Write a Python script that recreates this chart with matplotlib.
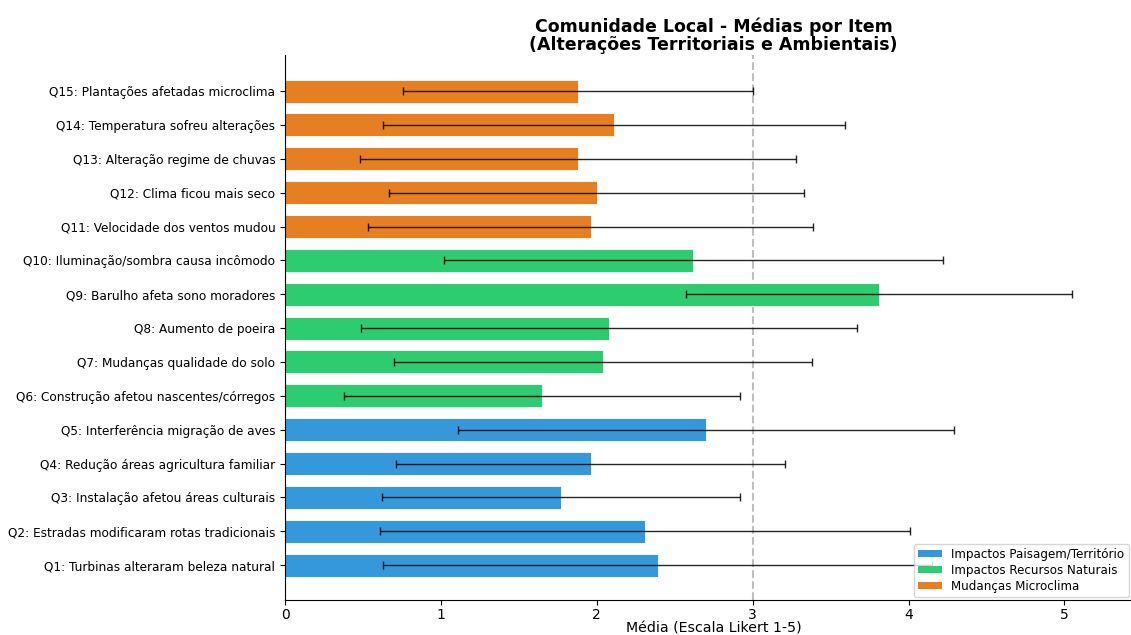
import matplotlib
matplotlib.use("Agg")
import matplotlib.pyplot as plt
from matplotlib.patches import Patch

# ── Survey items (bottom to top) ─────────────────────────────────────────────
items = [
    "Q1: Turbinas alteraram beleza natural",
    "Q2: Estradas modificaram rotas tradicionais",
    "Q3: Instalação afetou áreas culturais",
    "Q4: Redução áreas agricultura familiar",
    "Q5: Interferência migração de aves",
    "Q6: Construção afetou nascentes/córregos",
    "Q7: Mudanças qualidade do solo",
    "Q8: Aumento de poeira",
    "Q9: Barulho afeta sono moradores",
    "Q10: Iluminação/sombra causa incômodo",
    "Q11: Velocidade dos ventos mudou",
    "Q12: Clima ficou mais seco",
    "Q13: Alteração regime de chuvas",
    "Q14: Temperatura sofreu alterações",
    "Q15: Plantações afetadas microclima",
]
means = [2.39, 2.31, 1.77, 1.96, 2.70, 1.65, 2.04, 2.08, 3.81, 2.62,
         1.96, 2.00, 1.88, 2.11, 1.88]
stds = [1.76, 1.70, 1.15, 1.25, 1.59, 1.27, 1.34, 1.59, 1.24, 1.60,
        1.43, 1.33, 1.40, 1.48, 1.12]
groups = ["paisagem"] * 5 + ["recursos"] * 5 + ["microclima"] * 5

group_names = {
    "paisagem": "Impactos Paisagem/Território",
    "recursos": "Impactos Recursos Naturais",
    "microclima": "Mudanças Microclima",
}
group_colors = {
    "paisagem": "#3498db",
    "recursos": "#2ecc71",
    "microclima": "#e67e22",
}

# ── Figure ────────────────────────────────────────────────────────────────────
fig = plt.figure(figsize=(11.31, 6.35), dpi=100)
ax = fig.add_axes([0.252, 0.0551, 0.758, 0.858])

ypos = list(range(len(items)))
colors = [group_colors[g] for g in groups]
ax.barh(ypos, means, height=0.68, color=colors, edgecolor="white",
        linewidth=0.6, zorder=2)
ax.errorbar(means, ypos, xerr=stds, fmt="none", ecolor="black",
            elinewidth=1.0, capsize=3, alpha=0.85, zorder=3)

ax.axvline(3, color="gray", linestyle="--", alpha=0.5, linewidth=1.5, zorder=1)

ax.set_yticks(ypos)
ax.set_yticklabels(items, fontsize=8.75)
ax.set_xlim(0, 5.5)
ax.set_ylim(-1.03, 15.06)
ax.set_xticks([0, 1, 2, 3, 4, 5])
ax.tick_params(axis="x", labelsize=10, pad=2)
ax.set_xlabel("Média (Escala Likert 1-5)", fontsize=10.2, labelpad=0)
ax.set_title("Comunidade Local - Médias por Item\n(Alterações Territoriais e Ambientais)",
             fontsize=12.5, fontweight="bold", linespacing=0.95, pad=4)

ax.spines["top"].set_visible(False)
ax.spines["right"].set_visible(False)

# legend pinned to the figure's lower-right corner so it stays on the canvas
handles = [Patch(facecolor=group_colors[k], label=group_names[k])
           for k in ("paisagem", "recursos", "microclima")]
ax.legend(handles=handles, loc="lower right", fontsize=8.6,
          labelspacing=0.25, handleheight=0.6, borderpad=0.35,
          borderaxespad=0, bbox_to_anchor=(0.998, 0.06),
          bbox_transform=fig.transFigure)

fig.savefig("out.png", dpi=100)
